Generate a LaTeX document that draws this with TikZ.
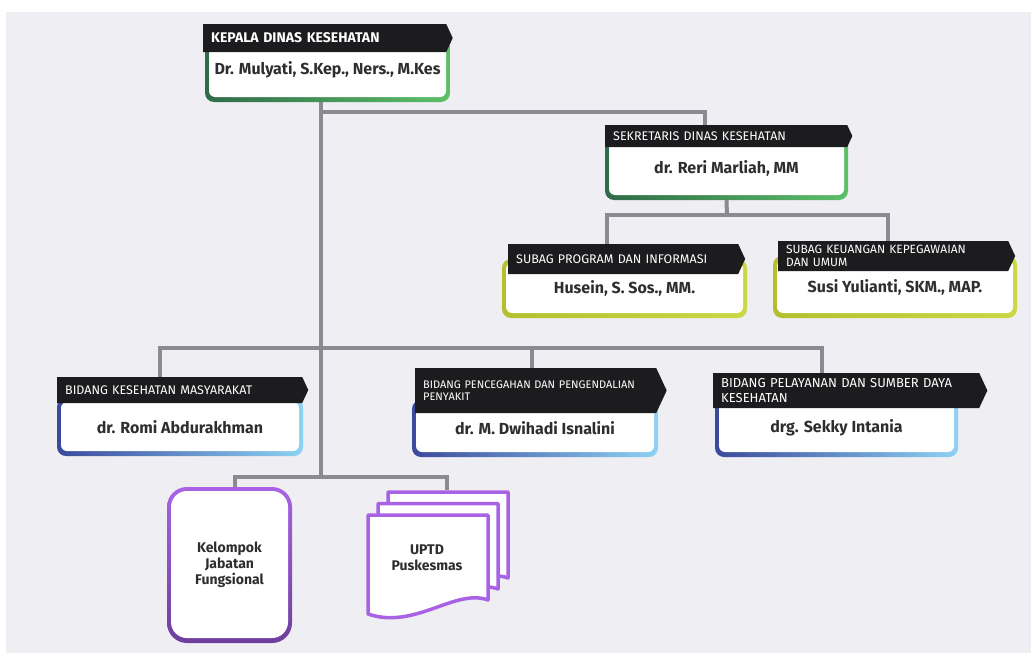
\documentclass[tikz,border=0pt]{standalone}
\usepackage{fontspec}
\setmainfont{Fira Sans}
\usetikzlibrary{shapes.symbols,calc}

\definecolor{latar}{HTML}{EFEEF3}
\definecolor{hitam}{HTML}{1C1C1E}
\definecolor{abu}{HTML}{8D8993}
\definecolor{teks}{HTML}{2E2E30}
\definecolor{hijautua}{HTML}{2F6B48}
\definecolor{hijaumuda}{HTML}{5CC068}
\definecolor{kuningtua}{HTML}{B3C02C}
\definecolor{kuningmuda}{HTML}{CAD845}
\definecolor{birutua}{HTML}{3B4A9C}
\definecolor{birumuda}{HTML}{8DD2F4}
\definecolor{ungutua}{HTML}{6E3F9C}
\definecolor{ungumuda}{HTML}{A863E4}

\tikzset{
  garis/.style={draw=abu, line width=4pt},
  kotak/.style={rounded corners=9pt, text=teks, align=center,
    font=\bfseries\fontsize{16}{18}\selectfont,
    path picture={\fill[white,rounded corners=#1]
      ($(path picture bounding box.south west)+(4pt,5pt)$) rectangle
      ($(path picture bounding box.north east)+(-4pt,-4pt)$);}},
  kotak/.default=6pt,
  hijau/.style={left color=hijautua, right color=hijaumuda},
  kuning/.style={left color=kuningtua, right color=kuningmuda},
  biru/.style={left color=birutua, right color=birumuda},
  jabatan/.style={signal, signal to=east, signal pointer angle=130,
    fill=hitam, text=white, text width=#1, align=left, inner xsep=8pt,
    inner ysep=1pt, anchor=west, font=\fontsize{12.5}{13}\selectfont},
  lembar/.style={draw=ungumuda, line width=3.5pt, fill=white, line join=round},
}

\begin{document}
\begin{tikzpicture}[x=1pt,y=-1pt]
\useasboundingbox (0,0) rectangle (1031,653);
\fill[white] (0,0) rectangle (1031,653);
\fill[latar] (6,12) rectangle (1031,653);

% kepala dinas
\node[kotak, hijau, minimum width=245pt, minimum height=64pt] (kepala) at (327.5,70) {Dr. Mulyati, S.Kep., Ners., M.Kes};
\node[jabatan=227pt, minimum height=28pt, font=\bfseries\fontsize{14}{15}\selectfont] (kepalaban) at (203,38) {KEPALA DINAS KESEHATAN};

% sekretaris
\node[kotak, hijau, minimum width=243pt, minimum height=64pt] (sek) at (726.5,168) {dr. Reri Marliah, MM};
\node[jabatan=226pt, minimum height=22pt] (sekban) at (605,136) {SEKRETARIS DINAS KESEHATAN};

% subbagian
\node[kotak, kuning, minimum width=245pt, minimum height=59pt] (prog) at (624.5,288.5) {Husein, S. Sos., MM.};
\node[jabatan=214pt, minimum height=30pt] (progban) at (508,259) {SUBAG PROGRAM DAN INFORMASI};

\node[kotak, kuning, minimum width=244pt, minimum height=62pt] (keu) at (895,287) {Susi Yulianti, SKM., MAP.};
\node[jabatan=214pt, minimum height=30pt, font=\fontsize{12}{13}\selectfont] (keuban) at (778,256) {SUBAG KEUANGAN KEPEGAWAIAN\\DAN UMUM};

% bidang
\node[kotak, biru, minimum width=246pt, minimum height=58pt] (kesmas) at (180,427) {dr. Romi Abdurakhman};
\node[jabatan=229pt, minimum height=26pt] (kesmasban) at (57,390) {BIDANG KESEHATAN MASYARAKAT};

\node[kotak, biru, minimum width=246pt, minimum height=57pt] (p2p) at (535,428.5) {dr. M. Dwihadi Isnalini};
\node[jabatan=225pt, minimum height=45pt, font=\fontsize{11}{12}\selectfont] (p2pban) at (415,390.5) {BIDANG PENCEGAHAN DAN PENGENDALIAN\\PENYAKIT};

\node[kotak, biru, minimum width=243pt, minimum height=59pt] (pel) at (836.5,427.5) {drg. Sekky Intania};
\node[jabatan=250pt, minimum height=35pt, font=\fontsize{13}{15}\selectfont] (pelban) at (713,390.5) {BIDANG PELAYANAN DAN SUMBER DAYA\\KESEHATAN};

% fungsional dan uptd
\node[kotak=16pt, rounded corners=20pt, top color=ungumuda, bottom color=ungutua, minimum width=125pt, minimum height=156pt, font=\bfseries\fontsize{14}{16}\selectfont] (kjf) at (229.5,565) {Kelompok\\Jabatan\\Fungsional};

\foreach \d in {2,1,0} {
  \draw[lembar] ({368+10*\d},{515-11.5*\d}) -- ({488+10*\d},{515-11.5*\d}) -- ({488+10*\d},{600-11*\d})
    .. controls ({455+10*\d},{588-11*\d}) and ({415+10*\d},{630-11*\d}) .. ({368+10*\d},{614-11*\d}) -- cycle;
}
\node[text=teks, align=center, font=\bfseries\fontsize{14}{16}\selectfont] (uptd) at (427,558) {UPTD\\Puskesmas};

% garis
\coordinate (cabangA) at (321,112);
\coordinate (cabangB) at (321,348);
\coordinate (cabangC) at (321,477);
\coordinate (cabangS) at (727,215);
\coordinate (sekmasuk) at ([xshift=100pt]sekban.north west);
\coordinate (progmasuk) at ([xshift=99pt]progban.north west);
\coordinate (keumasuk) at ([xshift=110pt]keuban.north west);
\coordinate (kesmasmasuk) at ([xshift=103pt]kesmasban.north west);
\coordinate (p2pmasuk) at ([xshift=117pt]p2pban.north west);
\coordinate (pelmasuk) at ([xshift=109pt]pelban.north west);
\coordinate (uptdatas) at (447,490);

\draw[garis] (kepala.south -| cabangA) -- (cabangC);
\draw[garis] (cabangA) -| (sekmasuk);
\draw[garis] (sek.south) -- (cabangS);
\draw[garis] (progmasuk) |- (cabangS) -| (keumasuk);
\draw[garis] (kesmasmasuk) |- (cabangB) -| (pelmasuk);
\draw[garis] (p2pmasuk) -- (p2pmasuk |- cabangB);
\draw[garis] ([xshift=5pt]kjf.north) |- (cabangC) -| (uptdatas);
\end{tikzpicture}
\end{document}
